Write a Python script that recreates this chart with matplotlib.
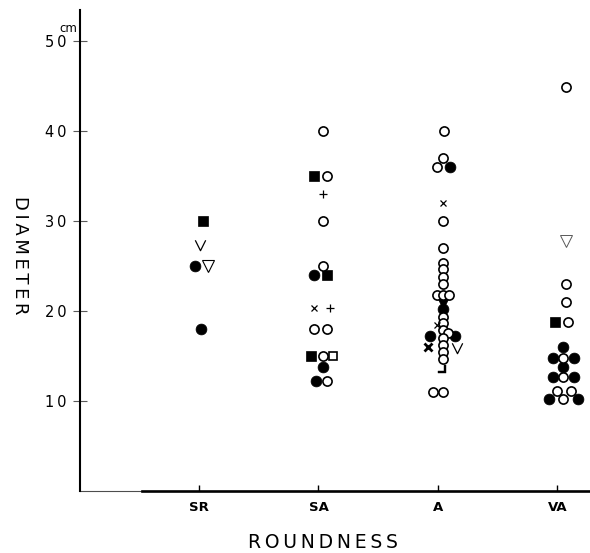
import matplotlib
matplotlib.use("Agg")
import matplotlib.pyplot as plt
from matplotlib.path import Path

# Roundness classes on the horizontal axis
categories = ["SR", "SA", "A", "VA"]

# Diameter axis ticks (cm)
diameter_ticks = [10, 20, 30, 40, 50]
diameter_tick_labels = ["1\u20090", "2\u20090", "3\u20090", "4\u20090", "5\u20090"]

# Each point: (roundness class, spread within the class, diameter in cm)
open_circles = [
    ("SA", 0.035, 40), ("SA", 0.075, 35), ("SA", 0.035, 30), ("SA", 0.035, 25),
    ("SA", -0.04, 18), ("SA", 0.075, 18), ("SA", 0.035, 15), ("SA", 0.075, 12.2),
    ("A", 0.05, 40), ("A", 0.04, 37), ("A", -0.01, 36), ("A", 0.04, 30),
    ("A", 0.04, 27), ("A", 0.04, 25.3), ("A", 0.04, 24.6), ("A", 0.04, 23.8),
    ("A", 0.04, 23.0), ("A", -0.01, 21.8), ("A", 0.04, 21.8), ("A", 0.09, 21.8),
    ("A", 0.04, 19.3), ("A", 0.04, 18.6), ("A", 0.04, 17.9), ("A", 0.08, 17.5),
    ("A", 0.04, 17.0), ("A", 0.04, 16.2), ("A", 0.04, 15.4), ("A", 0.04, 14.6),
    ("A", -0.04, 11), ("A", 0.04, 11),
    ("VA", 0.07, 44.8), ("VA", 0.07, 23), ("VA", 0.07, 21), ("VA", 0.085, 18.8),
    ("VA", 0.05, 14.8), ("VA", 0.05, 12.7), ("VA", 0.05, 10.2),
    ("VA", 0.0, 11.1), ("VA", 0.11, 11.1),
]
filled_circles = [
    ("SR", -0.03, 25), ("SR", 0.02, 18),
    ("SA", -0.04, 24), ("SA", 0.035, 13.8), ("SA", -0.025, 12.2),
    ("A", 0.10, 36), ("A", 0.04, 20.2), ("A", -0.07, 17.2), ("A", 0.14, 17.2),
    ("VA", 0.05, 16), ("VA", -0.04, 14.8), ("VA", 0.14, 14.8), ("VA", 0.05, 13.8),
    ("VA", -0.04, 12.7), ("VA", 0.14, 12.7), ("VA", -0.075, 10.2), ("VA", 0.17, 10.2),
]
filled_squares = [
    ("SR", 0.03, 30),
    ("SA", -0.035, 35), ("SA", 0.075, 24), ("SA", -0.065, 15),
    ("VA", -0.02, 18.8),
]
open_squares = [("SA", 0.125, 15)]
plus_marks = [("SA", 0.035, 33), ("SA", 0.10, 20.3)]
cross_marks = [("SA", -0.04, 20.3), ("A", 0.04, 32), ("A", -0.01, 18.4)]
bold_crosses = [("A", -0.08, 16)]
open_triangles = [("SR", 0.075, 25)]
faint_triangles = [("VA", 0.07, 27.7)]
filled_triangles = [("A", 0.04, 20.9)]
vee_marks = [("SR", 0.01, 27.3), ("A", 0.16, 15.9)]
hook_marks = [("A", 0.035, 13.5)]

cat_pos = {c: i + 1 for i, c in enumerate(categories)}


def xy(points):
    xs = [cat_pos[c] + dx for c, dx, _ in points]
    ys = [v for _, _, v in points]
    return xs, ys


vee = Path([(-0.5, 0.5), (0.0, -0.5), (0.5, 0.5)],
           [Path.MOVETO, Path.LINETO, Path.LINETO])

W, H = 590, 553
fig = plt.figure(figsize=(W / 100, H / 100), dpi=100)
ax = fig.add_axes([79.5 / W, 62 / H, 510.5 / W, 481 / H])
ax.set_xlim(0, 4.272)
ax.set_ylim(0, 53.4)

ax.spines["top"].set_visible(False)
ax.spines["right"].set_visible(False)
ax.spines["left"].set_linewidth(1.5)
ax.spines["bottom"].set_linewidth(1.9)
ax.spines["bottom"].set_bounds(0.523, 4.272)
ax.axhline(0, xmin=0, xmax=0.523 / 4.272, color="0.3", lw=0.8, clip_on=False)

# filled symbols first, white-faced open symbols drawn over them
kw = dict(ls="none", clip_on=False)
ax.plot(*xy(filled_circles), marker="o", ms=7.8, mfc="black", mec="black", mew=0.5, **kw)
ax.plot(*xy(filled_squares), marker="s", ms=7.0, mfc="black", mec="black", mew=0.5, **kw)
ax.plot(*xy(filled_triangles), marker="v", ms=8.5, mfc="black", mec="black", mew=0.5, **kw)
ax.plot(*xy(open_circles), marker="o", ms=6.6, mfc="white", mec="black", mew=1.2, **kw)
ax.plot(*xy(open_squares), marker="s", ms=6.4, mfc="white", mec="black", mew=1.2, **kw)
ax.plot(*xy(plus_marks), marker="+", ms=6.0, mec="black", mew=0.9, **kw)
ax.plot(*xy(cross_marks), marker="x", ms=5.0, mec="black", mew=0.9, **kw)
ax.plot(*xy(bold_crosses), marker="x", ms=5.5, mec="black", mew=2.0, **kw)
ax.plot(*xy(open_triangles), marker="v", ms=9, mfc="white", mec="black", mew=0.8, **kw)
ax.plot(*xy(faint_triangles), marker="v", ms=8.5, mfc="white", mec="0.35", mew=0.7, **kw)
ax.plot(*xy(vee_marks), marker=vee, ms=7.5, mfc="none", mec="black", mew=0.9, **kw)
ax.plot(*xy(hook_marks), marker=r"$\lrcorner$", ms=6, mfc="black", mec="black", mew=0.3, **kw)

ax.set_xticks(range(1, len(categories) + 1))
ax.set_xticklabels(categories, fontsize=9.5, fontweight="bold")
ax.tick_params(axis="x", direction="in", length=4, width=1.0, pad=7)

ax.set_yticks(diameter_ticks)
ax.set_yticklabels(diameter_tick_labels, fontsize=10.5)
ax.tick_params(axis="y", direction="inout", length=10.5, width=0.8,
               color="0.35", pad=4.3)

ax.annotate("cm", xy=(0, 50), xytext=(-8.3, 8.6), textcoords="offset points",
            ha="center", va="center", fontsize=8.5)

ax.set_ylabel("D\u2009I\u2009A\u2009M\u2009E\u2009T\u2009E\u2009R", fontsize=13,
              rotation=270, va="center", ha="center")
ax.yaxis.set_label_coords((20 - 79.5) / 510.5, 0.49)
ax.set_xlabel("R\u2009O\u2009U\u2009N\u2009D\u2009N\u2009E\u2009S\u2009S", fontsize=13.5,
              va="center", ha="center")
ax.xaxis.set_label_coords((323 - 79.5) / 510.5, (491 - 543) / 481)

fig.savefig("out.png", dpi=100)
